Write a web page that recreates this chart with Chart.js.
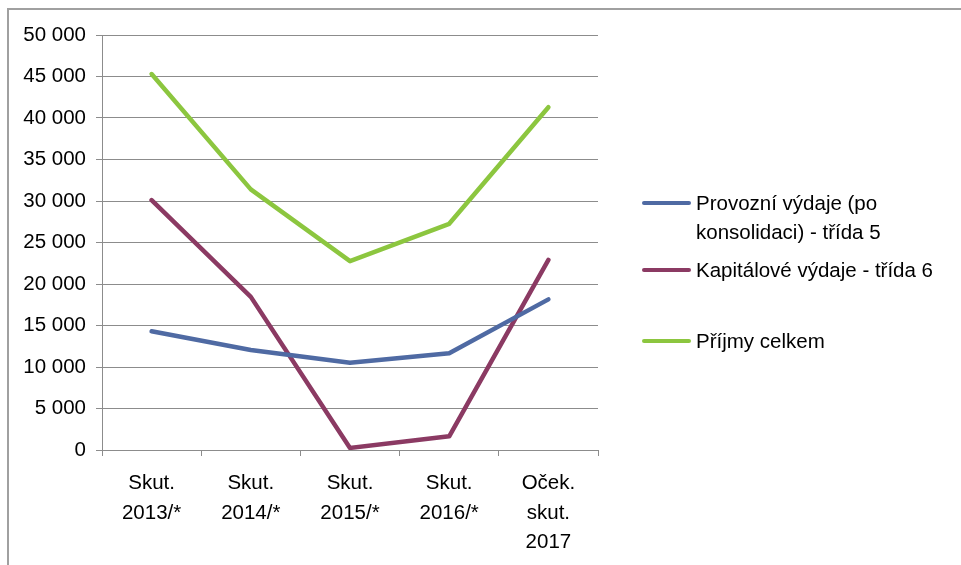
<!DOCTYPE html>
<html>
<head>
<meta charset="utf-8">
<script src="https://cdn.jsdelivr.net/npm/chart.js@4"></script>
<style>
    html, body { margin: 0; padding: 0; background: #fff; overflow: hidden; }
    #wrap { position: relative; width: 961px; height: 565px; }
    #frame {
        position: absolute; left: 7px; top: 8px; width: 1000px; height: 600px;
        border-top: 2px solid #a0a0a0; border-left: 2px solid #a0a0a0;
    }
    canvas { position: absolute; left: 0; top: 0; }
    #legend { position: absolute; left: 642px; top: 0; font-family: 'Liberation Sans', Arial, sans-serif; font-size: 20.5px; color: #000; }
    .item { position: absolute; left: 0; white-space: nowrap; }
    .swatch { position: absolute; left: 0; width: 49px; height: 4px; border-radius: 2px; }
    .text { position: absolute; left: 54px; line-height: 29px; }
</style>
</head>
<body>
<div id="wrap">
    <div id="frame"></div>
    <canvas id="chart" width="961" height="565"></canvas>
    <div id="legend"></div>
</div>
<script>
// Chart data
const categories = [
    ['Skut.', '2013/*'],
    ['Skut.', '2014/*'],
    ['Skut.', '2015/*'],
    ['Skut.', '2016/*'],
    ['Oček.', 'skut.', '2017']
];
const provozniVydaje = [14300, 12050, 10500, 11650, 18150];
const kapitaloveVydaje = [30100, 18450, 250, 1650, 22900];
const prijmyCelkem = [45300, 31400, 22750, 27250, 41300];

const seriesNames = [
    ['Provozní výdaje (po', 'konsolidaci) - třída 5'],
    ['Kapitálové výdaje - třída 6'],
    ['Příjmy celkem']
];
const seriesColors = ['#4f6aa3', '#8b3a63', '#8cc63f'];
const yMax = 50000;
const yStep = 5000;

const fontFamily = "'Liberation Sans', Arial, sans-serif";

function formatThousands(v) {
    return String(v).replace(/\B(?=(\d{3})+(?!\d))/g, ' ');
}

const datasets = [provozniVydaje, kapitaloveVydaje, prijmyCelkem].map((values, i) => ({
    label: seriesNames[i].join(' '),
    data: values,
    borderColor: seriesColors[i],
    backgroundColor: seriesColors[i],
    borderWidth: 4.5,
    pointRadius: 0,
    tension: 0,
    borderCapStyle: 'round',
    borderJoinStyle: 'round',
    fill: false
}));

new Chart(document.getElementById('chart'), {
    type: 'line',
    data: { labels: categories, datasets: datasets },
    options: {
        responsive: false,
        animation: false,
        layout: { padding: { left: 8, top: 35, right: 363, bottom: 0 } },
        plugins: {
            legend: { display: false },
            tooltip: { enabled: false }
        },
        scales: {
            x: {
                offset: true,
                grid: {
                    offset: true,
                    drawOnChartArea: false,
                    drawTicks: true,
                    tickLength: 6,
                    color: '#8c8c8c'
                },
                border: { display: true, color: '#8c8c8c', width: 1 },
                ticks: {
                    color: '#000',
                    padding: 12,
                    maxRotation: 0,
                    autoSkip: false,
                    font: { family: fontFamily, size: 20.5, lineHeight: 1.46 }
                },
                afterFit: (scale) => { scale.height = 115; }
            },
            y: {
                min: 0,
                max: yMax,
                ticks: {
                    stepSize: yStep,
                    color: '#000',
                    padding: 10,
                    font: { family: fontFamily, size: 20.5 },
                    callback: (v) => formatThousands(v)
                },
                grid: {
                    color: '#8c8c8c',
                    lineWidth: 1,
                    drawTicks: true,
                    tickLength: 6
                },
                border: { display: true, color: '#8c8c8c', width: 1 },
                afterFit: (scale) => { scale.width = 94; }
            }
        }
    }
});

// HTML legend built from the series
const legendTops = [203, 270, 341];
const legend = document.getElementById('legend');
seriesNames.forEach((lines, i) => {
    const item = document.createElement('div');
    item.className = 'item';
    item.style.top = legendTops[i] + 'px';
    const sw = document.createElement('div');
    sw.className = 'swatch';
    sw.style.background = seriesColors[i];
    sw.style.top = '-2px';
    const tx = document.createElement('div');
    tx.className = 'text';
    tx.style.top = '-15px';
    tx.innerHTML = lines.join('<br>');
    item.appendChild(sw);
    item.appendChild(tx);
    legend.appendChild(item);
});
</script>
</body>
</html>
